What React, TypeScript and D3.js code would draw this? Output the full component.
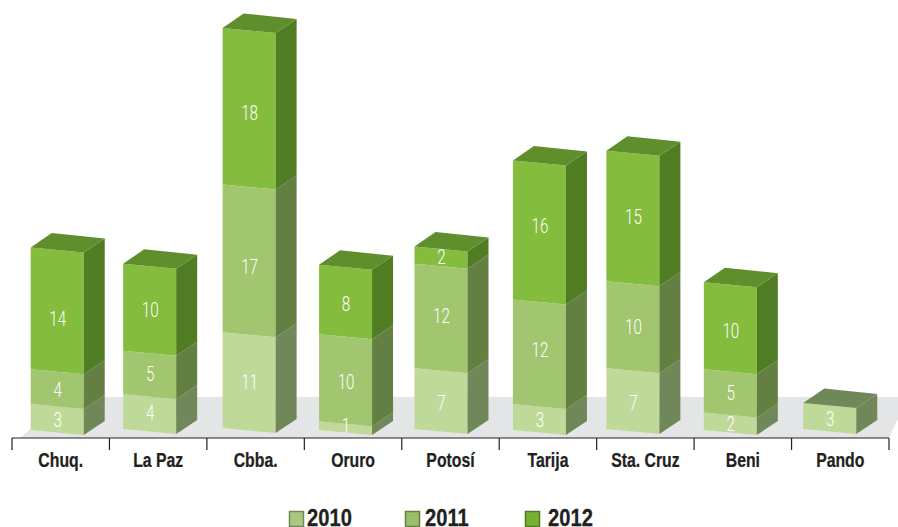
import React from "react";
import * as d3 from "d3";

const regions = ["Chuq.", "La Paz", "Cbba.", "Oruro", "Potosí", "Tarija", "Sta. Cruz", "Beni", "Pando"];
const values2010 = [3, 4, 11, 1, 7, 3, 7, 2, 3];
const values2011 = [4, 5, 17, 10, 12, 12, 10, 5, 0];
const values2012 = [14, 10, 18, 8, 2, 16, 15, 10, 0];
const years = ["2010", "2011", "2012"];
const seriesValues = [values2010, values2011, values2012];

const barShift = [-3.5, -8.5, -6.5, -7.5, -9.5, -8.5, -12.5, -12.5, -10.5];
const baseDrop = [2, 1, 0, 2, 1, 2, 1, 2, 1];
const labelNudge = [
  [2, 0, 0, -1, 3, 2, 3, 1, 2],
  [2, 0, 7, 3, -1, -3, 1, 1, 0],
  [9, 1, 5, 3, 0, -6, 0, 4, 0],
];
const frontColors = ["#bfd998", "#a2c56f", "#84bc3e"];
const sideColors = ["#708859", "#647f42", "#507c23"];
const topColors = ["#6f8857", "#637f41", "#5f8f2c"];
const swatchColors = ["#abc883", "#9bbf69", "#78b033"];
const legendX = [289, 405, 525];
const legendTextX = [307, 425, 548];

const W = 898, H = 527;
const axisY = 438;
const baseY = 428;
const barW = 53, skew = 5, depthX = 21, depthY = 14;
const FONT = "'Liberation Sans',Arial,sans-serif";
const LIGHT = "Roboto,'Liberation Sans',sans-serif";

export default function App() {
  const x = d3.scaleBand<string>().domain(regions).range([12, 889]).padding(0);
  const h = d3.scaleLinear().domain([0, 46]).range([0, 400]);
  const stack = d3.stack<number>()
    .keys([0, 1, 2] as any)
    .value((_: number, k: any) => seriesValues[k][_]);
  const layers = stack(regions.map((_, i) => i));
  const line = d3.line();
  const pts = (p: [number, number][]) => line(p)! + "Z";
  const ticks = d3.range(regions.length + 1).map((i) => 12 + i * x.bandwidth());

  return (
    <svg width={W} height={H} style={{ position: "fixed", left: 0, top: 0, display: "block", background: "#fff" }}>
      <path d={pts([[20, axisY], [67, 397], [908, 397], [889, axisY]])} fill="#e4e5e7" />
      <line x1={12} x2={889} y1={axisY} y2={axisY} stroke="#231f20" strokeWidth={1.2} />
      {ticks.map((t) => (
        <line key={t} x1={t} x2={t} y1={axisY} y2={450} stroke="#231f20" strokeWidth={1.2} />
      ))}
      {regions.map((r, i) => {
        const cx = x(r)! + x.bandwidth() / 2;
        const left = cx - barW / 2 + barShift[i];
        const right = left + barW;
        const b = baseY + baseDrop[i];
        const total = d3.sum(seriesValues, (s) => s[i]);
        return (
          <g key={r}>
            {layers.map((layer, k) => {
              const [v0, v1] = layer[i];
              if (v1 === v0) return null;
              const y0 = b - h(v0), y1 = b - h(v1);
              const isTop = v1 === total;
              return (
                <g key={k}>
                  <path d={pts([[left, y0], [right, y0 + skew], [right, y1 + skew], [left, y1]])} fill={frontColors[k]} />
                  <path d={pts([[right, y0 + skew], [right + depthX, y0 + skew - depthY], [right + depthX, y1 + skew - depthY], [right, y1 + skew]])} fill={sideColors[k]} />
                  {isTop && (
                    <path d={pts([[left, y1], [right, y1 + skew], [right + depthX, y1 + skew - depthY], [left + depthX, y1 - depthY - 0.5]])} fill={topColors[k]} />
                  )}
                </g>
              );
            })}
            {layers.map((layer, k) => {
              const [v0, v1] = layer[i];
              if (v1 === v0) return null;
              const y0 = b - h(v0), y1 = b - h(v1);
              return (
                <text
                  key={k}
                  transform={`translate(${(left + right) / 2 + 0.5},${(y0 + y1) / 2 + 8.5 + labelNudge[k][i]}) scale(0.78,1)`}
                  textAnchor="middle"
                  fill="#fff"
                  fontFamily={LIGHT}
                  fontWeight={300}
                  fontSize={19.5}
                >
                  {v1 - v0}
                </text>
              );
            })}
          </g>
        );
      })}
      {regions.map((r) => (
        <text
          key={r}
          transform={`translate(${x(r)! + x.bandwidth() / 2},467) scale(0.79,1)`}
          textAnchor="middle"
          fill="#231f20"
          stroke="#231f20"
          strokeWidth={0.25}
          fontFamily={FONT}
          fontWeight="bold"
          fontSize={20}
        >
          {r}
        </text>
      ))}
      {years.map((yr, k) => (
        <g key={yr}>
          <rect x={legendX[k] + 0.5} y={511.5} width={14} height={15} fill={swatchColors[k]} stroke={sideColors[k]} strokeWidth={1.5} />
          <text
            transform={`translate(${legendTextX[k]},526) scale(0.84,1)`}
            fill="#231f20"
            stroke="#231f20"
            strokeWidth={0.3}
            fontFamily={FONT}
            fontWeight="bold"
            fontSize={24}
          >
            {yr}
          </text>
        </g>
      ))}
    </svg>
  );
}
